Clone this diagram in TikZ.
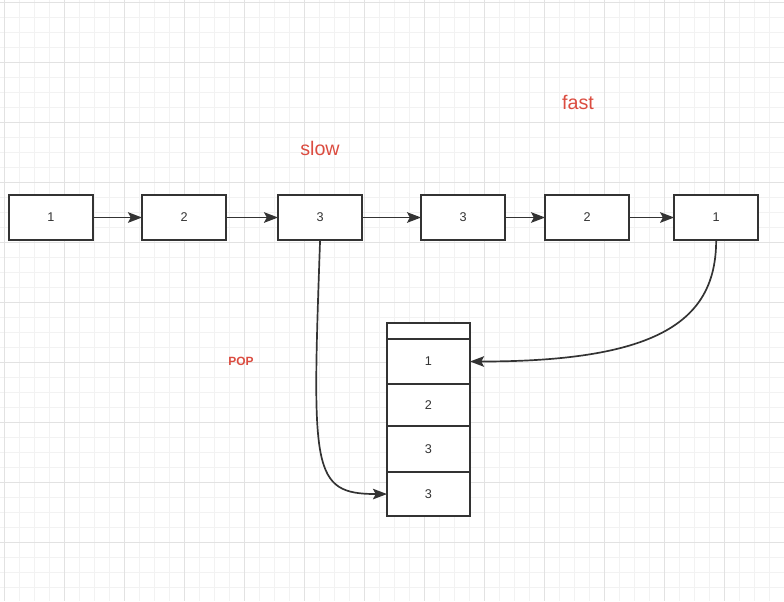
\documentclass[tikz,border=0pt]{standalone}
\usepackage{fontspec}
\setmainfont{Liberation Sans}
\usetikzlibrary{arrows.meta, positioning}
\definecolor{redtext}{RGB}{219,76,64}
\definecolor{linegray}{RGB}{51,51,51}
\definecolor{gridminor}{RGB}{242,242,242}
\definecolor{gridmajor}{RGB}{226,226,226}
\tikzstyle{arrow} = [line width=1.2pt, draw=linegray, -{Stealth[length=10pt, width=7.5pt, inset=2pt]}]

\begin{document}
\begin{tikzpicture}[
  x=0.025cm, y=-0.025cm,
  every node/.style={font=\fontsize{9}{11}\selectfont, text=linegray},
  listnode/.style={draw=linegray, line width=1.4pt, fill=white, outer sep=0pt, inner sep=0pt,
                   minimum width=2.1cm, minimum height=1.125cm},
  stackcell/.style={draw=linegray, line width=1.4pt, fill=white, outer sep=0pt, inner sep=0pt,
                    minimum width=2.075cm},
  pointer/.style={font=\fontsize{14}{16}\selectfont, text=redtext},
  popnote/.style={font=\fontsize{8.5}{10}\selectfont\bfseries, text=redtext}
]
\useasboundingbox (0,0) rectangle (784,601);

% Grid
\foreach \gx in {4,19,...,784} \draw[gridminor, line width=0.5pt] (\gx,0) -- (\gx,601);
\foreach \gy in {2,17,...,601} \draw[gridminor, line width=0.5pt] (0,\gy) -- (784,\gy);
\foreach \gx in {4,64,...,784} \draw[gridmajor, line width=0.6pt] (\gx,0) -- (\gx,601);
\foreach \gy in {2,62,...,601} \draw[gridmajor, line width=0.6pt] (0,\gy) -- (784,\gy);

% Linked list
\node[listnode] (n1) at (51,217.5) {1};
\node[listnode, right=1.225cm of n1] (n2) {2};
\node[listnode, right=1.3cm of n2]   (n3) {3};
\node[listnode, right=1.475cm of n3] (n4) {3};
\node[listnode, right=1.0cm of n4]   (n5) {2};
\node[listnode, right=1.125cm of n5] (n6) {1};

% Stack
\node[stackcell, minimum height=0.4cm] (s0) at (428.5,331) {};
\node[stackcell, minimum height=1.125cm, below=0pt of s0] (s1) {1};
\node[stackcell, minimum height=1.05cm, below=0pt of s1]  (s2) {2};
\node[stackcell, minimum height=1.15cm, below=0pt of s2]  (s3) {3};
\node[stackcell, minimum height=1.1cm, below=0pt of s3]   (s4) {3};

% Labels
\node[pointer] (slow) at (320,148) {slow};
\node[pointer] (fast) at (578,102) {fast};
\node[popnote] (pop) at (241,361) {POP};

% Next pointers
\draw[arrow] (n1) -- (n2);
\draw[arrow] (n2) -- (n3);
\draw[arrow] (n3) -- (n4);
\draw[arrow] (n4) -- (n5);
\draw[arrow] (n5) -- (n6);

% Into the stack
\draw[arrow] (n3.south) .. controls +(-8,230) and +(-76,0) .. (s4.west);
\draw[arrow] (n6.south) .. controls +(0,80) and +(190,0) .. (s1.east);
\end{tikzpicture}
\end{document}
